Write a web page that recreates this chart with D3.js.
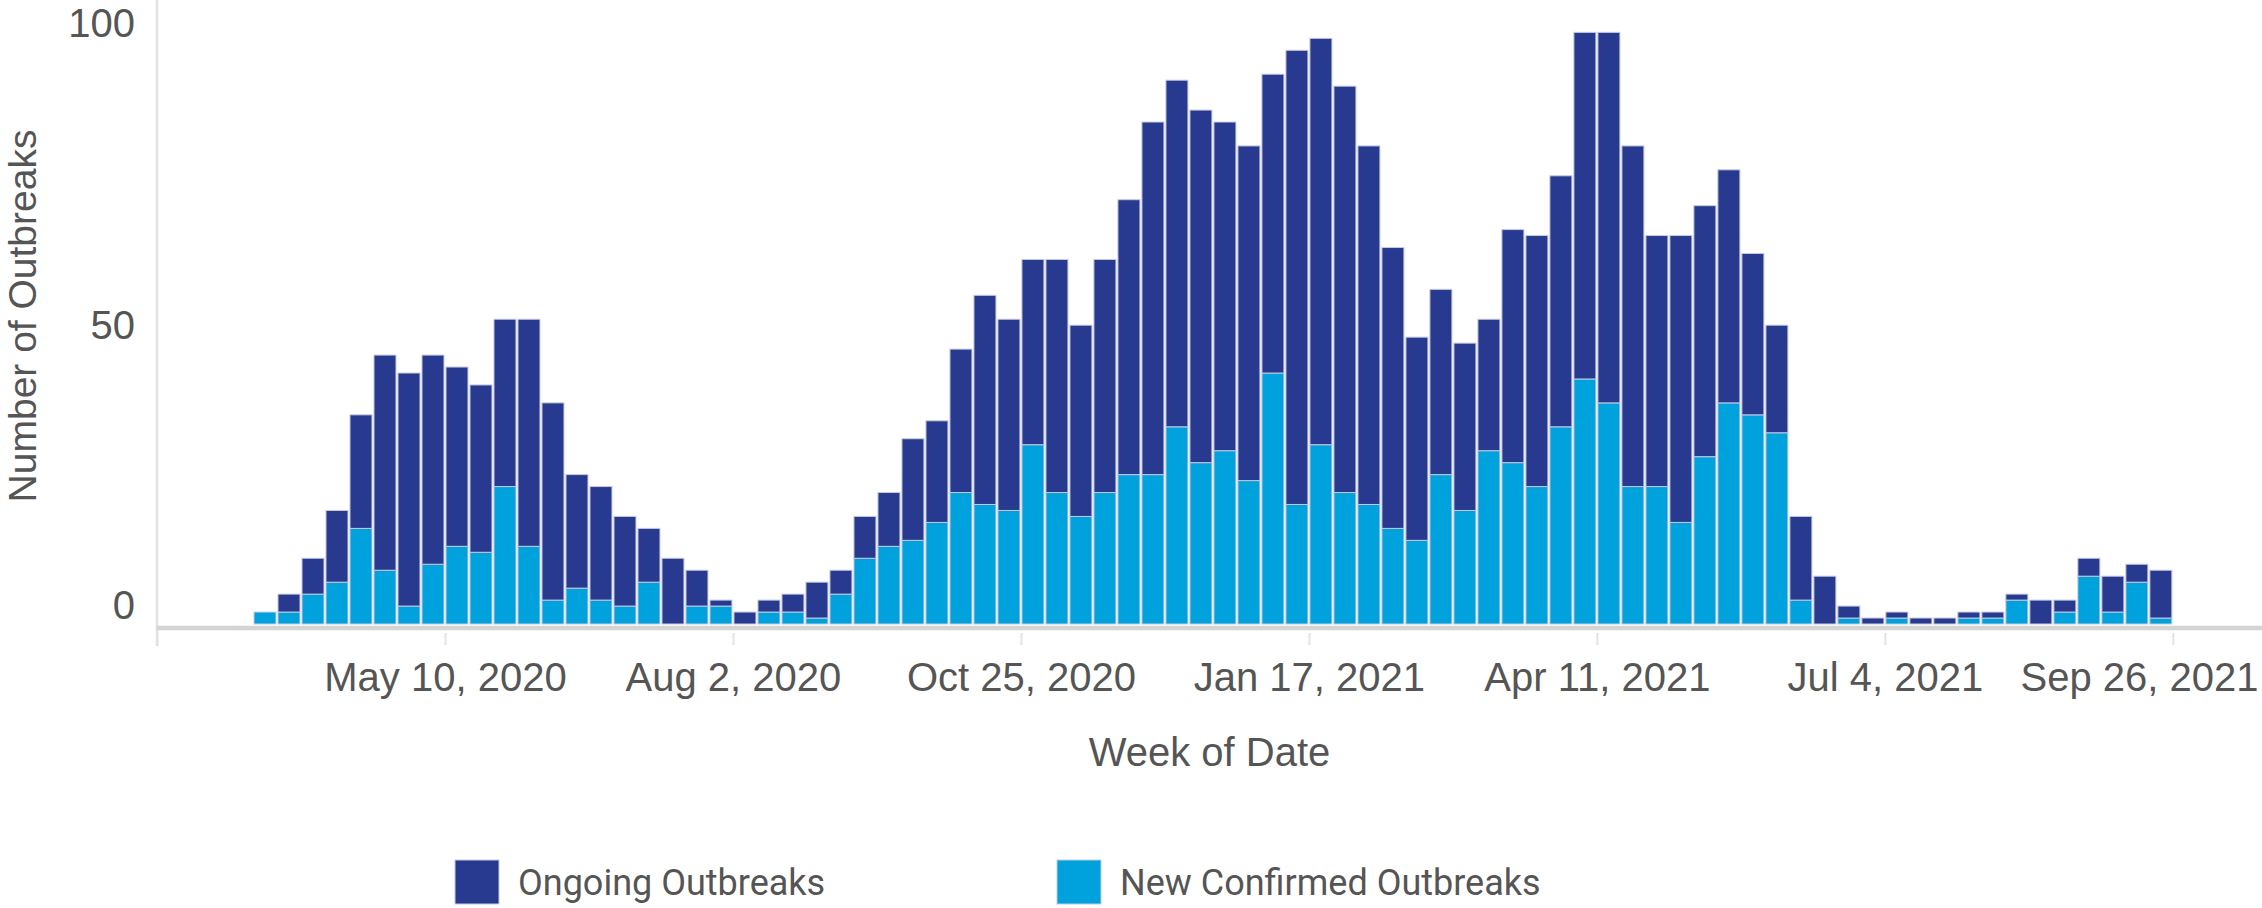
<!DOCTYPE html>
<html>
<head>
<meta charset="utf-8">
<script src="https://cdn.jsdelivr.net/npm/d3@7"></script>
<style>
  html, body { margin: 0; padding: 0; background: #fff; }
  text { font-family: "Liberation Sans", Arial, sans-serif; fill: #555; }
</style>
</head>
<body>
<div id="outbreak_chart"></div>
<script>
// week starting dates (Sunday)
var weeks = [
  "2020-03-15","2020-03-22","2020-03-29","2020-04-05","2020-04-12","2020-04-19","2020-04-26",
  "2020-05-03","2020-05-10","2020-05-17","2020-05-24","2020-05-31","2020-06-07","2020-06-14",
  "2020-06-21","2020-06-28","2020-07-05","2020-07-12","2020-07-19","2020-07-26","2020-08-02",
  "2020-08-09","2020-08-16","2020-08-23","2020-08-30","2020-09-06","2020-09-13","2020-09-20",
  "2020-09-27","2020-10-04","2020-10-11","2020-10-18","2020-10-25","2020-11-01","2020-11-08",
  "2020-11-15","2020-11-22","2020-11-29","2020-12-06","2020-12-13","2020-12-20","2020-12-27",
  "2021-01-03","2021-01-10","2021-01-17","2021-01-24","2021-01-31","2021-02-07","2021-02-14",
  "2021-02-21","2021-02-28","2021-03-07","2021-03-14","2021-03-21","2021-03-28","2021-04-04",
  "2021-04-11","2021-04-18","2021-04-25","2021-05-02","2021-05-09","2021-05-16","2021-05-23",
  "2021-05-30","2021-06-06","2021-06-13","2021-06-20","2021-06-27","2021-07-04","2021-07-11",
  "2021-07-18","2021-07-25","2021-08-01","2021-08-08","2021-08-15","2021-08-22","2021-08-29",
  "2021-09-05","2021-09-12","2021-09-19"
];

var newConfirmed = [
  2, 2, 5, 7, 16, 9, 3, 10, 13, 12, 23, 13, 4, 6, 4, 3, 7, 0, 3, 3,
  0, 2, 2, 1, 5, 11, 13, 14, 17, 22, 20, 19, 30, 22, 18, 22, 25, 25, 33, 27,
  29, 24, 42, 20, 30, 22, 20, 16, 14, 25, 19, 29, 27, 23, 33, 41, 37, 23, 23, 17,
  28, 37, 35, 32, 4, 0, 1, 0, 1, 0, 0, 1, 1, 4, 0, 2, 8, 2, 7, 1
];

var ongoing = [
  0, 3, 6, 12, 19, 36, 39, 35, 30, 28, 28, 38, 33, 19, 19, 15, 9, 11, 6, 1,
  2, 2, 3, 6, 4, 7, 9, 17, 17, 24, 35, 32, 31, 39, 32, 39, 46, 59, 58, 59,
  55, 56, 50, 76, 68, 68, 60, 47, 34, 31, 28, 22, 39, 42, 42, 58, 62, 57, 42, 48,
  42, 39, 27, 18, 14, 8, 2, 1, 1, 1, 1, 1, 1, 1, 4, 2, 3, 6, 3, 8
];

var tickDates = ["2020-02-16","2020-05-10","2020-08-02","2020-10-25","2021-01-17",
                 "2021-04-11","2021-07-04","2021-09-26"];
var yTicks = [0, 50, 100];

var seriesNames = ["New Confirmed Outbreaks", "Ongoing Outbreaks"];
var colors = { "Ongoing Outbreaks": "#283a8f", "New Confirmed Outbreaks": "#00a2de" };

// set the dimensions
var width = 2262, height = 908;
var left = 157, bottom = 624;

var parse = d3.utcParse("%Y-%m-%d");

var table = weeks.map(function(w, i) {
  return { week: parse(w), "New Confirmed Outbreaks": newConfirmed[i], "Ongoing Outbreaks": ongoing[i] };
});

var svg = d3.select("#outbreak_chart")
  .append("svg")
    .attr("width", width)
    .attr("height", height);

// X axis, continuous weeks
var x = d3.scaleUtc()
  .domain([parse("2020-02-16"), parse("2021-10-22")])
  .range([left, width]);

// Y axis
var y = d3.scaleLinear()
  .domain([0, 100])
  .range([bottom, 26.4]);

// y axis line
svg.append("line")
  .attr("x1", left).attr("x2", left)
  .attr("y1", 0).attr("y2", 646)
  .attr("stroke", "#e1e1e1")
  .attr("stroke-width", 2.5);

// stacked bars
var stacked = d3.stack().keys(seriesNames)(table);

svg.append("g")
  .selectAll("g")
  .data(stacked)
  .join("g")
    .attr("fill", function(d) { return colors[d.key]; })
  .selectAll("rect")
  .data(function(d) { return d; })
  .join("rect")
    .attr("x", function(d) { return x(d.data.week) + 1; })
    .attr("width", function(d) { return x(d3.utcDay.offset(d.data.week, 7)) - x(d.data.week) - 2; })
    .attr("y", function(d) { return y(d[1]); })
    .attr("height", function(d) { return y(d[0]) - y(d[1]); })
    .attr("stroke", "#c6c9de")
    .attr("stroke-width", 1);

// zero line
svg.append("line")
  .attr("x1", left).attr("x2", width)
  .attr("y1", 628).attr("y2", 628)
  .attr("stroke", "#d4d4d4")
  .attr("stroke-width", 4.5);

var fmt = d3.utcFormat("%b %-d, %Y");
var xAxis = svg.append("g")
  .attr("transform", "translate(0,633)")
  .call(d3.axisBottom(x)
    .tickValues(tickDates.map(parse))
    .tickSize(12)
    .tickPadding(18)
    .tickFormat(function(d, i) { return i === 0 ? "" : fmt(d); }));
xAxis.select(".domain").remove();
xAxis.selectAll(".tick line").attr("stroke", "#e3e3e3").attr("stroke-width", 2);
xAxis.selectAll(".tick text")
  .style("font-family", "'Liberation Sans', Arial, sans-serif")
  .style("font-size", "40px")
  .attr("fill", "#555");
// last label is pulled in so it stays inside the view
var lastTick = parse(tickDates[tickDates.length - 1]);
xAxis.selectAll(".tick text")
  .filter(function(d) { return +d === +lastTick; })
  .attr("text-anchor", "end")
  .attr("x", 2258 - x(lastTick));

var yAxis = svg.append("g")
  .attr("transform", "translate(" + left + ",0)")
  .call(d3.axisLeft(y).tickValues(yTicks).tickSize(0).tickPadding(22));
yAxis.select(".domain").remove();
yAxis.selectAll(".tick text")
  .style("font-family", "'Liberation Sans', Arial, sans-serif")
  .style("font-size", "40px")
  .attr("fill", "#555")
  .attr("dy", function(d) { return d === 0 ? "-0.13em" : d === 100 ? "0.26em" : "0.32em"; });

// axis titles
svg.append("text")
  .attr("transform", "translate(36,316) rotate(-90)")
  .attr("text-anchor", "middle")
  .style("font-size", "39px")
  .text("Number of Outbreaks");

svg.append("text")
  .attr("x", (left + width) / 2)
  .attr("y", 766)
  .attr("text-anchor", "middle")
  .style("font-size", "40px")
  .text("Week of Date");

// legend
var legend = [
  { name: "Ongoing Outbreaks", x: 455 },
  { name: "New Confirmed Outbreaks", x: 1057 }
];
var lg = svg.append("g")
  .selectAll("g")
  .data(legend)
  .join("g")
    .attr("transform", function(d) { return "translate(" + d.x + ",860)"; });
lg.append("rect")
  .attr("width", 44).attr("height", 44)
  .attr("fill", function(d) { return colors[d.name]; })
  .attr("stroke", "#c6c9de")
  .attr("stroke-width", 1);
lg.append("text")
  .attr("x", 63)
  .attr("y", 22)
  .attr("dy", "0.35em")
  .style("font-family", "Roboto, sans-serif")
  .style("font-size", "36px")
  .text(function(d) { return d.name; });
</script>
</body>
</html>
